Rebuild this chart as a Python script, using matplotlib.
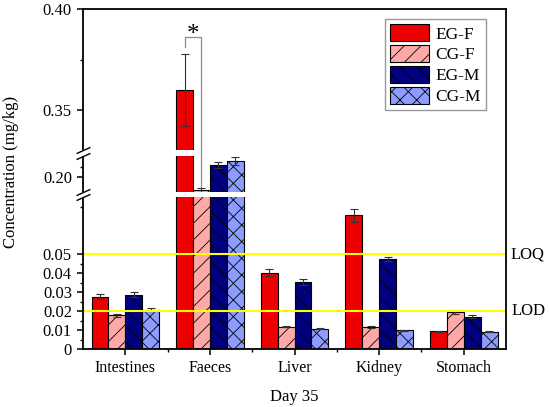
import matplotlib
matplotlib.use("Agg")
import matplotlib.pyplot as plt
import numpy as np
from matplotlib import transforms

plt.rcParams['font.family'] = ['Liberation Serif', 'DejaVu Serif']
plt.rcParams['hatch.linewidth'] = 0.6

organs = ["Intestines", "Faeces", "Liver", "Kidney", "Stomach"]
groups = ["EG-F", "CG-F", "EG-M", "CG-M"]

eg_f = [0.0276, 0.360, 0.0403, 0.0704, 0.0093]
eg_f_err = [0.0012, 0.018, 0.0020, 0.0033, 0.0003]
cg_f = [0.0177, 0.1938, 0.0118, 0.0118, 0.0195]
cg_f_err = [0.0007, 0.0010, 0.0004, 0.0005, 0.0012]
eg_m = [0.0287, 0.2062, 0.0352, 0.0475, 0.0169]
eg_m_err = [0.0012, 0.0016, 0.0015, 0.0012, 0.0008]
cg_m = [0.0208, 0.2080, 0.0108, 0.0099, 0.0091]
cg_m_err = [0.0006, 0.0019, 0.0003, 0.0003, 0.0003]

loq = 0.05
lod = 0.02

colors = ["#EE0000", "#FFA8A8", "#000080", "#8C9CFF"]
hatches = [None, "//", "\\\\", "xx"]

# broken y axis: value breakpoints -> pixel heights (piecewise linear scale)
brk_vals = [0, 0.080, 0.1925, 0.2105, 0.33, 0.40]
brk_px = [0, 152, 157, 193, 199, 340]


def fwd(v):
    return np.interp(v, brk_vals, brk_px)


def inv(u):
    return np.interp(u, brk_px, brk_vals)


fig = plt.figure(figsize=(5.5, 4.07), dpi=100)
ax = fig.add_axes([0.151, 0.1425, 0.769, 0.8345])
ax.set_yscale('function', functions=(fwd, inv))

x = np.arange(1, len(organs) + 1)
width = 0.2
offsets = [-0.3, -0.1, 0.1, 0.3]
series = [eg_f, cg_f, eg_m, cg_m]
errors = [eg_f_err, cg_f_err, eg_m_err, cg_m_err]
for i in range(4):
    ax.bar(x + offsets[i], series[i], width, yerr=errors[i], color=colors[i],
           edgecolor='black', linewidth=0.8, hatch=hatches[i], label=groups[i],
           error_kw=dict(ecolor='#333333', elinewidth=0.8, capsize=3, capthick=0.8))

ax.set_xlim(0.5, 5.5)
ax.set_ylim(0, 0.40)

trans = transforms.blended_transform_factory(ax.transAxes, ax.transData)

# white gaps + break marks
for a, b in [(brk_vals[1], brk_vals[2]), (brk_vals[3], brk_vals[4])]:
    ax.axhspan(a, b, color='white', lw=0, zorder=2.2)
    ax.plot([0, 0], [a, b], transform=trans, color='white', lw=3, zorder=3,
            clip_on=False, solid_capstyle='butt')
    ax.plot([0, 0], [a, b], transform=trans, ls='none', marker=[(-1, -0.45), (1, 0.45)],
            markersize=10, mec='black', mfc='none', mew=1, clip_on=False, zorder=4)

# LOQ / LOD lines
ax.axhline(loq, color='#FFFF00', lw=1.5, zorder=2.3)
ax.axhline(lod, color='#FFFF00', lw=1.5, zorder=2.3)
ax.text(1.01, loq, 'LOQ', transform=trans, va='center', ha='left', fontsize=12)
ax.text(1.014, lod, 'LOD', transform=trans, va='center', ha='left', fontsize=12)

# significance bracket (faeces EG-F vs CG-F)
xl = x[1] + offsets[0]
xr = x[1] + offsets[1]
leg_l = eg_f[1] + eg_f_err[1] + 0.0035
top = leg_l + 0.005
leg_r = cg_f[1] + cg_f_err[1] + 0.0003
ax.plot([xl, xl, xr, xr], [leg_l, top, top, leg_r], color='#8C8C8C', lw=0.9, zorder=3)
ax.text((xl + xr) / 2, top - 0.002, '*', ha='center', va='baseline', fontsize=18)

yticks = [0, 0.01, 0.02, 0.03, 0.04, 0.05, 0.20, 0.35, 0.40]
ytick_labels = ["0", "0.01", "0.02", "0.03", "0.04", "0.05", "0.20", "0.35", "0.40"]
ax.set_yticks(yticks)
ax.set_yticklabels(ytick_labels)
ax.set_yticks([0.005, 0.015, 0.025, 0.035, 0.045, 0.075, 0.205, 0.375], minor=True)
ax.set_xticks(x)
ax.set_xticklabels(organs)
ax.set_xticks(x[:-1] + 0.5, minor=True)

ax.tick_params(which='major', direction='out', length=4.5, width=1.1, labelsize=12)
ax.tick_params(which='minor', direction='out', length=2.5, width=1.0)
ax.tick_params(axis='x', labelsize=11.5)
for s in ax.spines.values():
    s.set_linewidth(1.3)

ax.set_ylabel("Concentration (mg/kg)", fontsize=12)
ax.yaxis.set_label_coords(-0.151, 0.521)
ax.set_xlabel("Day 35", fontsize=12, labelpad=9)

ax.legend(loc='upper right', bbox_to_anchor=(0.953, 0.971), borderaxespad=0,
          fancybox=False, edgecolor='#999999', framealpha=1, fontsize=12.5,
          handlelength=2.2, handleheight=1.1, labelspacing=0.15, handletextpad=0.4,
          borderpad=0.3)

plt.savefig("out.png", dpi=100)
plt.close()
